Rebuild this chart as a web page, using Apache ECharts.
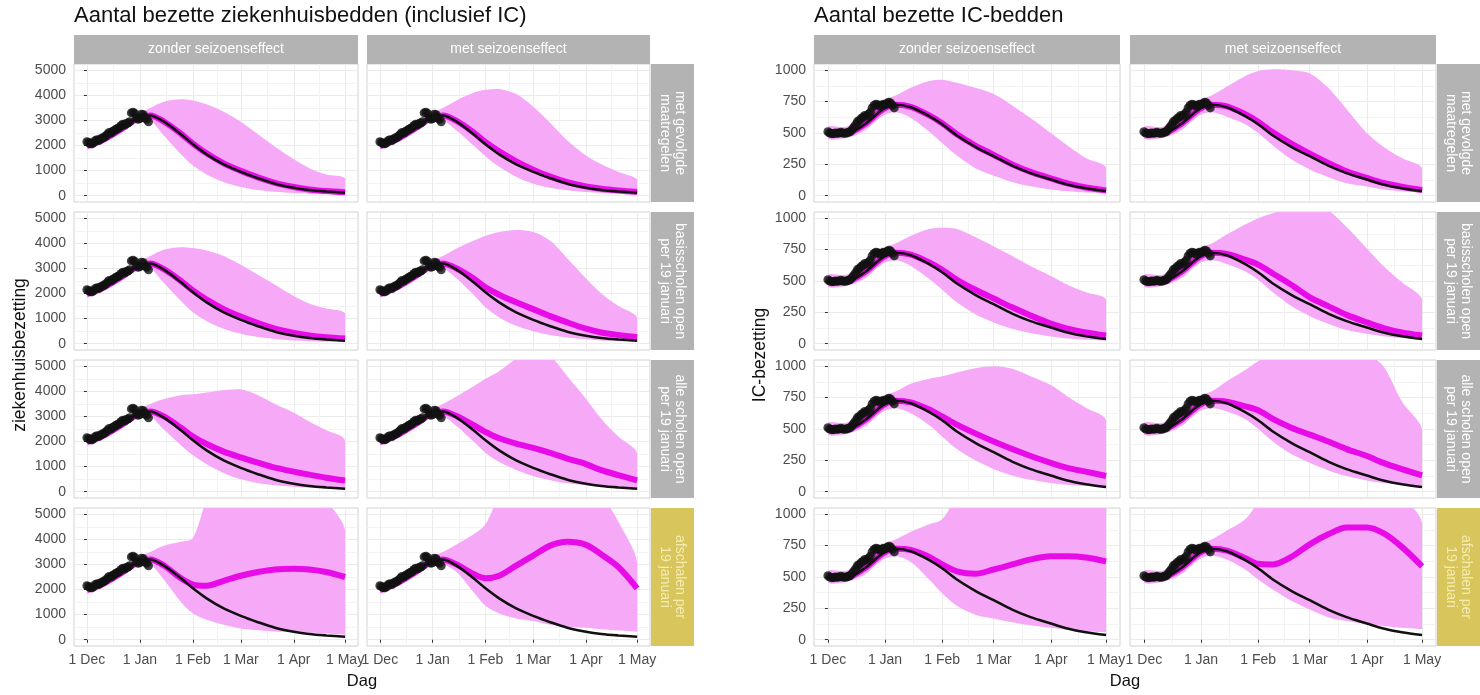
<!DOCTYPE html>
<html>
<head>
<meta charset="utf-8">
<title>Bezette bedden scenario's</title>
<script src="https://cdn.jsdelivr.net/npm/echarts@6/dist/echarts.min.js"></script>
<style>
    html, body { margin: 0; padding: 0; background: #fff; }
    #main { width: 1480px; height: 695px; }
</style>
</head>
<body>
<div id="main"></div>
<script>
var modelDays = [0, 10, 20, 30, 37, 45, 55, 62, 70, 80, 90, 100, 110, 121, 130, 140, 151];
// x-as
var tickDays = [0, 31, 62, 90, 121, 151];
var tickLabels = ['1 Dec', '1 Jan', '1 Feb', '1 Mar', '1 Apr', '1 May'];
var minorDays = [15.5, 46.5, 76, 105.5, 136];
// y-as
var zkhTicks = [0, 1000, 2000, 3000, 4000, 5000];
var zkhMinor = [500, 1500, 2500, 3500, 4500];
var icTicks = [0, 250, 500, 750, 1000];
var icMinor = [125, 375, 625, 875];

var colNames = ['zonder seizoenseffect', 'met seizoenseffect'];
var rowNames = ['met gevolgde\nmaatregelen', 'basisscholen open\nper 19 januari', 'alle scholen open\nper 19 januari', 'afschalen per\n19 januari'];

// waarnemingen, dag 0 .. 36
var obsZkh = [2150, 2120, 2080, 2070, 2120, 2200, 2230, 2200, 2260, 2300, 2330, 2380, 2450, 2520, 2500, 2560, 2600, 2650, 2680, 2720, 2800, 2850, 2820, 2880, 2900, 2950, 3300, 3330, 3280, 3100, 3050, 3080, 3250, 3230, 3100, 3050, 2950];
var obsIc = [510, 500, 495, 495, 500, 498, 500, 505, 500, 498, 500, 505, 510, 525, 545, 565, 590, 600, 615, 625, 640, 635, 650, 665, 700, 720, 730, 725, 715, 720, 730, 725, 735, 745, 740, 720, 700];

// zwarte lijn (referentie)
var refZkh = [1980, 2250, 2650, 3100, 3200, 2950, 2450, 2050, 1650, 1250, 950, 700, 480, 320, 230, 170, 120];
var refIc = [500, 495, 570, 690, 725, 705, 635, 570, 480, 390, 315, 240, 180, 130, 90, 60, 37];

// ziekenhuis, zonder seizoenseffect
var zkhZ1Mid = [1980, 2250, 2650, 3100, 3200, 2960, 2470, 2080, 1690, 1290, 990, 730, 510, 345, 250, 185, 135];
var zkhZ1Lo = [1850, 2100, 2500, 2950, 3000, 2400, 1650, 1200, 850, 550, 350, 230, 160, 110, 80, 60, 50];
var zkhZ1Hi = [2200, 2400, 2800, 3250, 3500, 3750, 3850, 3800, 3650, 3350, 2950, 2450, 1950, 1450, 1100, 850, 700];
var zkhZ2Mid = [1980, 2250, 2650, 3100, 3200, 2970, 2500, 2120, 1760, 1380, 1080, 820, 600, 430, 330, 260, 210];
var zkhZ2Lo = [1850, 2100, 2500, 2950, 3000, 2420, 1700, 1250, 900, 600, 400, 270, 190, 130, 100, 75, 60];
var zkhZ2Hi = [2200, 2400, 2800, 3250, 3500, 3750, 3850, 3820, 3720, 3500, 3150, 2750, 2350, 1900, 1600, 1400, 1200];
var zkhZ3Mid = [1980, 2250, 2650, 3100, 3200, 3000, 2550, 2200, 1900, 1600, 1370, 1160, 960, 800, 680, 560, 450];
var zkhZ3Lo = [1850, 2100, 2500, 2950, 3000, 2480, 1850, 1450, 1100, 750, 500, 350, 260, 200, 160, 130, 110];
var zkhZ3Hi = [2200, 2400, 2800, 3250, 3500, 3700, 3850, 3880, 3950, 4050, 4080, 3850, 3500, 3150, 2800, 2450, 2050];
var zkhZ4Mid = [1980, 2250, 2650, 3100, 3200, 2960, 2450, 2200, 2150, 2350, 2550, 2700, 2800, 2830, 2800, 2700, 2500];
var zkhZ4Lo = [1850, 2100, 2500, 2950, 3000, 2400, 1500, 1050, 800, 600, 450, 380, 330, 300, 280, 250, 200];
var zkhZ4Hi = [2200, 2400, 2800, 3300, 3500, 3750, 3900, 4050, 5600, 7000, 8000, 8500, 8000, 7500, 6800, 5600, 4350];
// ziekenhuis, met seizoenseffect
var zkhM1Mid = [1980, 2250, 2650, 3100, 3200, 2980, 2520, 2130, 1770, 1370, 1040, 760, 540, 370, 280, 210, 150];
var zkhM1Lo = [1850, 2100, 2500, 2950, 3000, 2600, 2000, 1570, 1150, 750, 480, 320, 220, 150, 110, 85, 65];
var zkhM1Hi = [2200, 2400, 2800, 3250, 3500, 3800, 4100, 4220, 4250, 4050, 3550, 2900, 2200, 1600, 1250, 950, 650];
var zkhM2Mid = [1980, 2250, 2650, 3100, 3200, 3000, 2600, 2250, 1950, 1650, 1380, 1100, 850, 600, 450, 350, 260];
var zkhM2Lo = [1850, 2100, 2500, 2950, 3000, 2600, 1950, 1450, 1050, 720, 500, 350, 250, 180, 130, 100, 80];
var zkhM2Hi = [2200, 2400, 2800, 3250, 3500, 3800, 4100, 4300, 4450, 4530, 4450, 4100, 3400, 2600, 2000, 1500, 1050];
var zkhM3Mid = [1980, 2250, 2650, 3100, 3200, 3020, 2650, 2380, 2130, 1920, 1750, 1550, 1320, 1100, 860, 660, 450];
var zkhM3Lo = [1850, 2100, 2500, 2950, 3000, 2620, 2000, 1550, 1180, 870, 630, 460, 340, 260, 200, 150, 120];
var zkhM3Hi = [2200, 2400, 2800, 3250, 3500, 3800, 4200, 4500, 4800, 5300, 5600, 5400, 4600, 3700, 2900, 2200, 1550];
var zkhM4Mid = [1980, 2250, 2650, 3100, 3200, 3000, 2620, 2450, 2550, 2950, 3350, 3750, 3900, 3780, 3400, 2900, 2050];
var zkhM4Lo = [1850, 2100, 2500, 2950, 3000, 2700, 1900, 1350, 1050, 850, 750, 600, 520, 480, 420, 370, 320];
var zkhM4Hi = [2200, 2400, 2800, 3300, 3500, 3800, 4200, 4600, 5800, 7200, 8000, 8000, 7500, 6500, 5800, 4700, 3100];

// IC, zonder seizoenseffect
var icZ1Mid = [500, 495, 570, 690, 725, 708, 640, 578, 490, 400, 325, 250, 190, 138, 98, 66, 42];
var icZ1Lo = [455, 460, 520, 640, 665, 620, 510, 420, 320, 220, 160, 110, 75, 50, 35, 25, 20];
var icZ1Hi = [550, 550, 640, 760, 800, 860, 915, 925, 900, 860, 810, 720, 620, 500, 400, 300, 225];
var icZ2Mid = [500, 495, 570, 690, 725, 710, 648, 590, 510, 430, 360, 290, 225, 160, 120, 90, 65];
var icZ2Lo = [455, 460, 520, 640, 665, 620, 515, 430, 330, 235, 170, 120, 85, 58, 42, 32, 25];
var icZ2Hi = [550, 550, 640, 760, 800, 860, 915, 925, 915, 850, 775, 700, 620, 540, 470, 410, 350];
var icZ3Mid = [500, 495, 570, 690, 725, 712, 655, 600, 535, 465, 400, 340, 285, 230, 190, 160, 125];
var icZ3Lo = [455, 460, 520, 640, 665, 625, 530, 440, 340, 250, 180, 130, 95, 70, 55, 45, 40];
var icZ3Hi = [550, 550, 640, 760, 800, 860, 900, 920, 950, 985, 1000, 980, 920, 850, 760, 670, 570];
var icZ4Mid = [500, 495, 570, 690, 725, 715, 660, 600, 545, 525, 560, 600, 640, 665, 665, 655, 625];
var icZ4Lo = [455, 460, 520, 640, 665, 620, 480, 370, 270, 200, 170, 140, 115, 95, 80, 70, 58];
var icZ4Hi = [550, 550, 640, 760, 800, 860, 920, 960, 1150, 1400, 1600, 1600, 1600, 1600, 1600, 1600, 1600];
// IC, met seizoenseffect
var icM1Mid = [500, 495, 570, 690, 725, 712, 650, 590, 505, 415, 335, 262, 195, 142, 102, 72, 45];
var icM1Lo = [455, 460, 520, 640, 665, 630, 570, 500, 400, 290, 210, 150, 100, 74, 50, 35, 25];
var icM1Hi = [550, 550, 640, 760, 800, 870, 955, 995, 1008, 1000, 975, 860, 690, 500, 390, 300, 220];
var icM2Mid = [500, 495, 570, 690, 725, 715, 670, 630, 560, 470, 370, 300, 230, 170, 125, 90, 65];
var icM2Lo = [455, 460, 520, 640, 665, 635, 575, 510, 410, 300, 220, 160, 110, 80, 60, 45, 35];
var icM2Hi = [550, 550, 640, 760, 800, 870, 950, 1000, 1040, 1080, 1080, 1060, 930, 760, 620, 490, 355];
var icM3Mid = [500, 495, 570, 690, 725, 718, 680, 650, 580, 510, 455, 400, 340, 285, 230, 180, 130];
var icM3Lo = [455, 460, 520, 640, 665, 640, 580, 500, 400, 300, 230, 170, 125, 90, 70, 58, 50];
var icM3Hi = [550, 550, 640, 760, 800, 880, 970, 1040, 1100, 1200, 1250, 1250, 1200, 1100, 1000, 720, 500];
var icM4Mid = [500, 495, 570, 690, 725, 710, 650, 605, 600, 660, 760, 840, 895, 895, 850, 740, 585];
var icM4Lo = [455, 460, 520, 640, 670, 640, 560, 480, 400, 310, 240, 180, 150, 125, 110, 95, 85];
var icM4Hi = [550, 550, 640, 760, 800, 870, 960, 1100, 1300, 1400, 1400, 1400, 1400, 1400, 1300, 1150, 930];

/**
 * opmaak
 */
var font = "'Liberation Sans', Arial, sans-serif";
var bandColor = '#f6a9f6';
var midColor = '#e70ce7';
var gridColor = '#ebebeb';

var rowTop = [64, 212, 360, 508];
var rowH = 138;
var blocks = [
    {
        title: 'Aantal bezette ziekenhuisbedden (inclusief IC)', yName: 'ziekenhuisbezetting',
        left: [74, 367], width: [284, 283], strip: 651, stripW: 43, yNameX: 20, dagX: 362,
        min: -250, max: 5250, ticks: zkhTicks, minor: zkhMinor, obs: obsZkh, ref: refZkh,
        panels: [
            [[zkhZ1Mid, zkhZ1Lo, zkhZ1Hi], [zkhM1Mid, zkhM1Lo, zkhM1Hi]],
            [[zkhZ2Mid, zkhZ2Lo, zkhZ2Hi], [zkhM2Mid, zkhM2Lo, zkhM2Hi]],
            [[zkhZ3Mid, zkhZ3Lo, zkhZ3Hi], [zkhM3Mid, zkhM3Lo, zkhM3Hi]],
            [[zkhZ4Mid, zkhZ4Lo, zkhZ4Hi], [zkhM4Mid, zkhM4Lo, zkhM4Hi]]
        ]
    },
    {
        title: 'Aantal bezette IC-bedden', yName: 'IC-bezetting',
        left: [814, 1130], width: [306, 306], strip: 1437, stripW: 43, yNameX: 760, dagX: 1125,
        min: -50, max: 1050, ticks: icTicks, minor: icMinor, obs: obsIc, ref: refIc,
        panels: [
            [[icZ1Mid, icZ1Lo, icZ1Hi], [icM1Mid, icM1Lo, icM1Hi]],
            [[icZ2Mid, icZ2Lo, icZ2Hi], [icM2Mid, icM2Lo, icM2Hi]],
            [[icZ3Mid, icZ3Lo, icZ3Hi], [icM3Mid, icM3Lo, icM3Hi]],
            [[icZ4Mid, icZ4Lo, icZ4Hi], [icM4Mid, icM4Lo, icM4Hi]]
        ]
    }
];

function xy(arr) {
    return modelDays.map(function (d, i) { return [d, arr[i]]; });
}

// band tussen onder- en bovengrens: één polygoon via de assen van het paneel
function bandRenderer(lo, hi) {
    return function (params, api) {
        if (params.dataIndex !== 0) return;
        var top = [], bottom = [];
        for (var i = 0; i < modelDays.length; i++) {
            top.push(api.coord([modelDays[i], hi[i]]));
            bottom.unshift(api.coord([modelDays[i], lo[i]]));
        }
        var pts = top.concat(bottom);
        var xs = pts.map(function (p) { return p[0]; }), ys = pts.map(function (p) { return p[1]; });
        var cs = params.coordSys;
        return {
            type: 'polygon',
            shape: { points: pts, smooth: 0.3,
                smoothConstraint: [[Math.min.apply(null, xs), Math.min.apply(null, ys)], [Math.max.apply(null, xs), Math.max.apply(null, ys)]] },
            style: { fill: bandColor },
            clipPath: { type: 'rect', shape: { x: cs.x, y: cs.y, width: cs.width, height: cs.height } }
        };
    };
}

var grids = [], xAxes = [], yAxes = [], series = [], graphics = [];
var k = 0;
blocks.forEach(function (b) {
    // titel + as-titels
    graphics.push({ type: 'text', x: b.left[0], y: 16, style: { text: b.title, font: '22px ' + font, fill: '#111', verticalAlign: 'middle' } });
    graphics.push({ type: 'text', x: b.yNameX, y: 355, rotation: Math.PI / 2, style: { text: b.yName, font: '17.5px ' + font, fill: '#111', align: 'center', verticalAlign: 'middle' } });
    graphics.push({ type: 'text', x: b.dagX, y: 681, style: { text: 'Dag', font: '16.5px ' + font, fill: '#111', align: 'center', verticalAlign: 'middle' } });

    // kolomkoppen
    for (var c = 0; c < 2; c++) {
        graphics.push({ type: 'rect', shape: { x: b.left[c], y: 35, width: b.width[c], height: 29 }, style: { fill: '#b3b3b3' } });
        graphics.push({ type: 'text', x: b.left[c] + b.width[c] / 2, y: 49.5, style: { text: colNames[c], font: '14px ' + font, fill: '#fff', align: 'center', verticalAlign: 'middle' } });
    }
    // rijlabels rechts
    for (var r = 0; r < 4; r++) {
        var yellow = r === 3;
        graphics.push({ type: 'rect', shape: { x: b.strip, y: rowTop[r], width: b.stripW, height: rowH }, style: { fill: yellow ? '#d8c65c' : '#b3b3b3' } });
        graphics.push({ type: 'text', x: b.strip + b.stripW / 2, y: rowTop[r] + rowH / 2, rotation: -Math.PI / 2,
            style: { text: rowNames[r], font: '14px ' + font, lineHeight: 15, fill: yellow ? '#f4ecb0' : '#fff', align: 'center', verticalAlign: 'middle' } });
    }

    b.panels.forEach(function (rowPanels, r) {
        rowPanels.forEach(function (p, c) {
            var showX = r === 3, showY = c === 0;
            grids.push({ left: b.left[c], top: rowTop[r], width: b.width[c], height: rowH, show: true,
                backgroundColor: '#fff', borderColor: '#d2d2d2', borderWidth: 1 });
            // x-as: hoofdlijnen + tussenlijnen
            xAxes.push({ gridIndex: k, type: 'value', min: -7.55, max: 158.55,
                axisLine: { show: false },
                axisTick: { show: showX, customValues: tickDays, length: 3, lineStyle: { color: '#333' } },
                axisLabel: { show: showX, customValues: tickDays, color: '#4d4d4d', fontSize: 14, fontFamily: font, margin: 7,
                    formatter: function (v) { var i = tickDays.indexOf(v); return i >= 0 ? tickLabels[i] : ''; } },
                splitLine: { show: true, lineStyle: { color: gridColor, width: 1 } } });
            xAxes.push({ gridIndex: k, type: 'value', min: -7.55, max: 158.55,
                axisLine: { show: false }, axisLabel: { show: false },
                axisTick: { show: false, customValues: minorDays },
                splitLine: { show: true, lineStyle: { color: '#f3f3f3', width: 1 } } });
            // y-as
            yAxes.push({ gridIndex: k, type: 'value', min: b.min, max: b.max,
                axisLine: { show: false },
                axisTick: { show: showY, customValues: b.ticks, length: 3, lineStyle: { color: '#333' } },
                axisLabel: { show: showY, customValues: b.ticks, color: '#4d4d4d', fontSize: 14, fontFamily: font, margin: 8,
                    formatter: function (v) { return String(v); } },
                splitLine: { show: true, lineStyle: { color: gridColor, width: 1 } } });
            yAxes.push({ gridIndex: k, type: 'value', min: b.min, max: b.max,
                axisLine: { show: false }, axisLabel: { show: false },
                axisTick: { show: false, customValues: b.minor },
                splitLine: { show: true, lineStyle: { color: '#f3f3f3', width: 1 } } });

            var ax = { xAxisIndex: 2 * k, yAxisIndex: 2 * k, silent: true, animation: false };
            var mid = p[0], lo = p[1], hi = p[2];
            series.push(Object.assign({ type: 'custom', renderItem: bandRenderer(lo, hi),
                data: modelDays.map(function (d, i) { return [d, lo[i], hi[i]]; }),
                encode: { x: 0, y: [1, 2] }, z: 1 }, ax));
            series.push(Object.assign({ type: 'line', data: xy(mid), smooth: 0.3, symbol: 'none',
                lineStyle: { color: midColor, width: 6 }, z: 2 }, ax));
            series.push(Object.assign({ type: 'line', data: xy(b.ref), smooth: 0.3, symbol: 'none',
                lineStyle: { color: '#111', width: 2.6 }, z: 3 }, ax));
            series.push(Object.assign({ type: 'scatter', symbolSize: 9, itemStyle: { color: '#111' },
                data: b.obs.map(function (v, i) { return [i, v]; }), z: 4 }, ax));
            k++;
        });
    });
});

var myChart = echarts.init(document.getElementById('main'));
myChart.setOption({
    animation: false,
    textStyle: { fontFamily: font },
    grid: grids,
    xAxis: xAxes,
    yAxis: yAxes,
    series: series,
    graphic: graphics
});
</script>
</body>
</html>
